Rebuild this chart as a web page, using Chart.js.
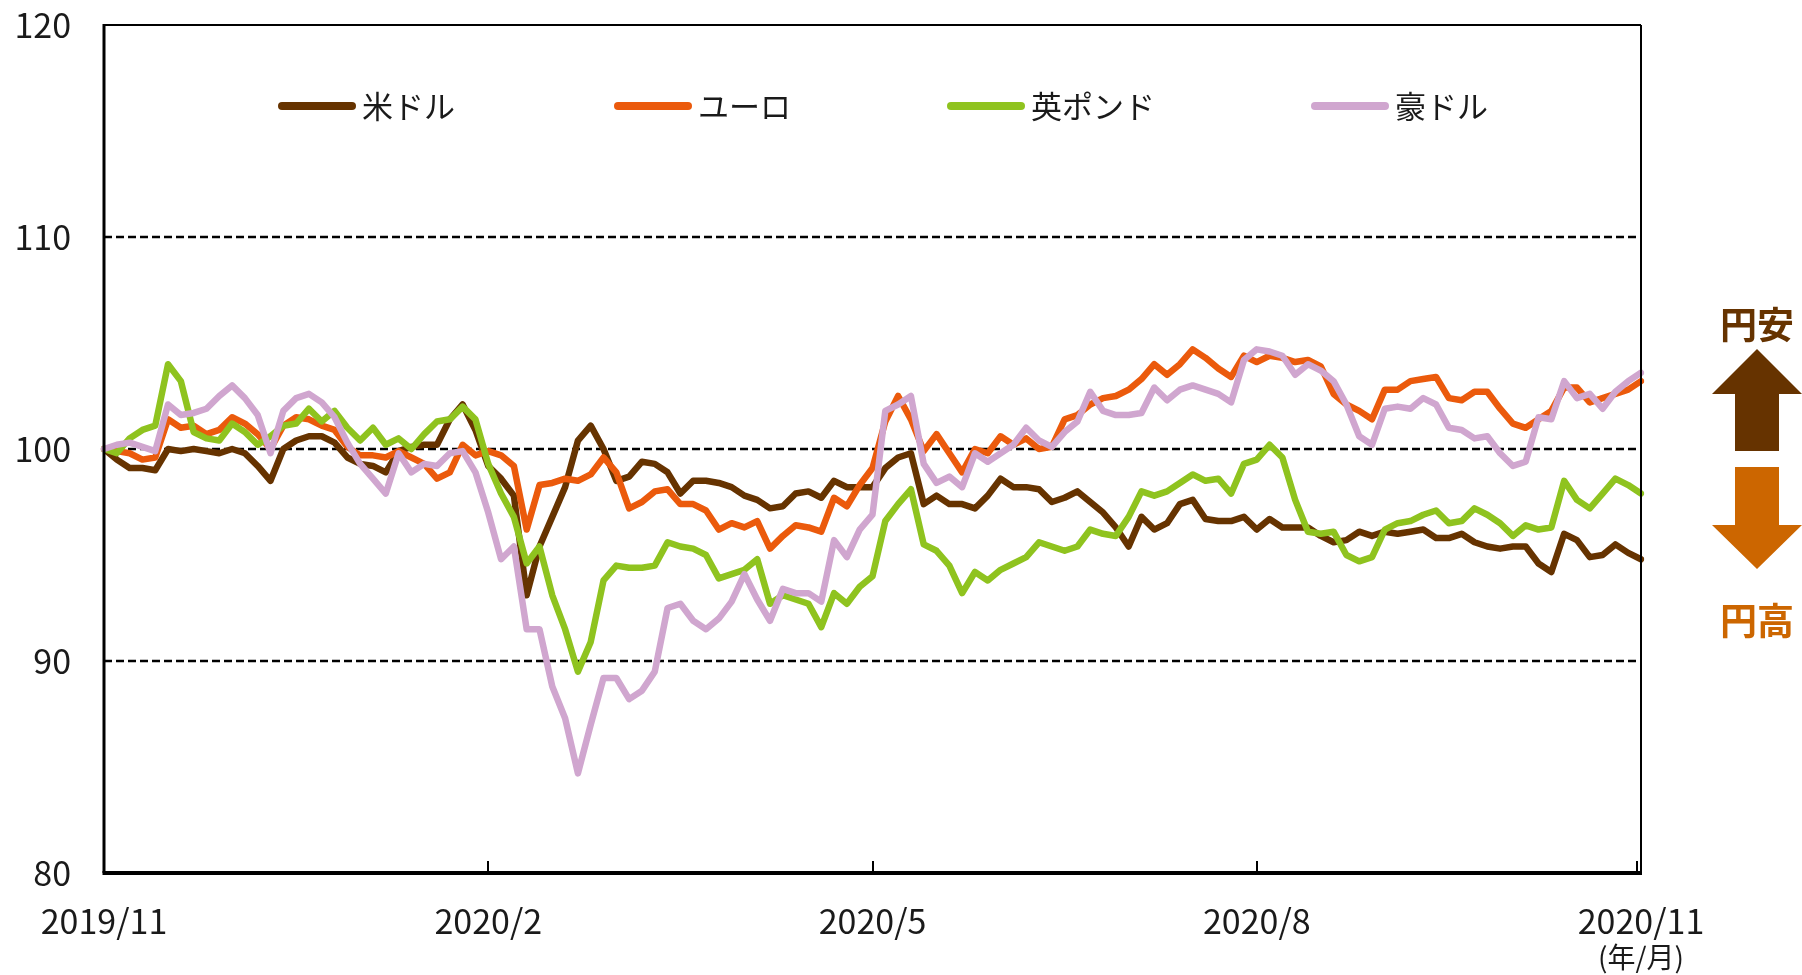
<!DOCTYPE html>
<html lang="ja">
<head>
<meta charset="utf-8">
<title>主要通貨の対円レート</title>
<script src="https://cdn.jsdelivr.net/npm/chart.js@4.4.1/dist/chart.umd.min.js"></script>
<style>
  html, body { margin: 0; padding: 0; background: #fff; }
  #wrap { width: 1802px; height: 975px; }
</style>
</head>
<body>
<div id="wrap"><canvas id="fx" width="1802" height="975"></canvas></div>
<script>
// 系列名・色
const seriesNames = ["米ドル", "ユーロ", "英ポンド", "豪ドル"];
const seriesColors = ["#663300", "#EB5A0C", "#8FC31F", "#D0A6CF"];

// 横軸ラベル（30点ごと）
const monthLabels = ["2019/11", "2020/2", "2020/5", "2020/8", "2020/11"];
const pointsPerLabel = 30;
const axisUnit = "(年/月)";

// 縦軸
const yTicks = [80, 90, 100, 110, 120];

// 2019/11 = 100 とした指数
const usd = [100.0, 99.5, 99.1, 99.1, 99.0, 100.0, 99.9, 100.0, 99.9, 99.8,
  100.0, 99.8, 99.2, 98.5, 100.0, 100.4, 100.6, 100.6, 100.3, 99.6,
  99.3, 99.2, 98.9, 99.9, 100.1, 100.2, 100.2, 101.4, 102.1, 100.9,
  99.2, 98.6, 97.8, 93.1, 95.4, 96.8, 98.2, 100.4, 101.1, 100.0,
  98.5, 98.7, 99.4, 99.3, 98.9, 97.9, 98.5, 98.5, 98.4, 98.2,
  97.8, 97.6, 97.2, 97.3, 97.9, 98.0, 97.7, 98.5, 98.2, 98.2,
  98.2, 99.1, 99.6, 99.8, 97.4, 97.8, 97.4, 97.4, 97.2, 97.8,
  98.6, 98.2, 98.2, 98.1, 97.5, 97.7, 98.0, 97.5, 97.0, 96.3,
  95.4, 96.8, 96.2, 96.5, 97.4, 97.6, 96.7, 96.6, 96.6, 96.8,
  96.2, 96.7, 96.3, 96.3, 96.3, 95.9, 95.6, 95.7, 96.1, 95.9,
  96.1, 96.0, 96.1, 96.2, 95.8, 95.8, 96.0, 95.6, 95.4, 95.3,
  95.4, 95.4, 94.6, 94.2, 96.0, 95.7, 94.9, 95.0, 95.5, 95.1,
  94.8];

const eur = [100.0, 99.9, 99.8, 99.5, 99.6, 101.4, 101.0, 101.1, 100.7, 100.9,
  101.5, 101.2, 100.7, 100.0, 101.1, 101.5, 101.4, 101.1, 100.9, 100.1,
  99.7, 99.7, 99.6, 99.9, 99.6, 99.3, 98.6, 98.9, 100.2, 99.7,
  99.9, 99.7, 99.2, 96.2, 98.3, 98.4, 98.6, 98.5, 98.8, 99.6,
  98.9, 97.2, 97.5, 98.0, 98.1, 97.4, 97.4, 97.1, 96.2, 96.5,
  96.3, 96.6, 95.3, 95.9, 96.4, 96.3, 96.1, 97.7, 97.3, 98.3,
  99.1, 101.3, 102.5, 101.4, 99.9, 100.7, 99.8, 98.9, 100.0, 99.8,
  100.6, 100.2, 100.5, 100.0, 100.1, 101.4, 101.6, 102.1, 102.4, 102.5,
  102.8, 103.3, 104.0, 103.5, 104.0, 104.7, 104.3, 103.8, 103.4, 104.4,
  104.1, 104.4, 104.3, 104.1, 104.2, 103.9, 102.6, 102.1, 101.8, 101.4,
  102.8, 102.8, 103.2, 103.3, 103.4, 102.4, 102.3, 102.7, 102.7, 101.9,
  101.2, 101.0, 101.4, 101.8, 102.9, 102.9, 102.2, 102.4, 102.6, 102.8,
  103.2];

const gbp = [100.0, 99.8, 100.5, 100.9, 101.1, 104.0, 103.2, 100.8, 100.5, 100.4,
  101.2, 100.8, 100.2, 100.6, 101.1, 101.2, 101.9, 101.3, 101.8, 101.0,
  100.4, 101.0, 100.2, 100.5, 100.0, 100.7, 101.3, 101.4, 102.0, 101.4,
  99.3, 97.9, 96.8, 94.6, 95.4, 93.1, 91.5, 89.5, 90.9, 93.8,
  94.5, 94.4, 94.4, 94.5, 95.6, 95.4, 95.3, 95.0, 93.9, 94.1,
  94.3, 94.8, 92.7, 93.1, 92.9, 92.7, 91.6, 93.2, 92.7, 93.5,
  94.0, 96.6, 97.4, 98.1, 95.5, 95.2, 94.5, 93.2, 94.2, 93.8,
  94.3, 94.6, 94.9, 95.6, 95.4, 95.2, 95.4, 96.2, 96.0, 95.9,
  96.8, 98.0, 97.8, 98.0, 98.4, 98.8, 98.5, 98.6, 97.9, 99.3,
  99.5, 100.2, 99.6, 97.6, 96.1, 96.0, 96.1, 95.0, 94.7, 94.9,
  96.2, 96.5, 96.6, 96.9, 97.1, 96.5, 96.6, 97.2, 96.9, 96.5,
  95.9, 96.4, 96.2, 96.3, 98.5, 97.6, 97.2, 97.9, 98.6, 98.3,
  97.9];

const aud = [100.0, 100.2, 100.3, 100.1, 99.9, 102.1, 101.6, 101.7, 101.9, 102.5,
  103.0, 102.4, 101.6, 99.8, 101.8, 102.4, 102.6, 102.2, 101.5, 100.3,
  99.3, 98.6, 97.9, 99.8, 98.9, 99.3, 99.2, 99.8, 99.9, 98.9,
  97.0, 94.8, 95.4, 91.5, 91.5, 88.8, 87.3, 84.7, 87.0, 89.2,
  89.2, 88.2, 88.6, 89.5, 92.5, 92.7, 91.9, 91.5, 92.0, 92.8,
  94.1, 92.9, 91.9, 93.4, 93.2, 93.2, 92.8, 95.7, 94.9, 96.2,
  96.9, 101.8, 102.1, 102.5, 99.3, 98.4, 98.7, 98.2, 99.8, 99.4,
  99.8, 100.2, 101.0, 100.4, 100.1, 100.8, 101.3, 102.7, 101.8, 101.6,
  101.6, 101.7, 102.9, 102.3, 102.8, 103.0, 102.8, 102.6, 102.2, 104.2,
  104.7, 104.6, 104.4, 103.5, 104.0, 103.7, 103.2, 102.1, 100.6, 100.2,
  101.9, 102.0, 101.9, 102.4, 102.1, 101.0, 100.9, 100.5, 100.6, 99.8,
  99.2, 99.4, 101.5, 101.4, 103.2, 102.4, 102.6, 101.9, 102.7, 103.2,
  103.6];

const FONT = "'Noto Sans CJK JP', 'Noto Sans', sans-serif";
const TEXT = "#1a1a1a";

// 破線の目盛線と外枠、下軸の目盛り
const frameAndGrid = {
  id: "frameAndGrid",
  beforeDatasetsDraw(chart) {
    const { ctx, chartArea: a, scales: { y } } = chart;
    ctx.save();
    ctx.strokeStyle = "#000";
    ctx.lineWidth = 2.5;
    ctx.setLineDash([8, 4]);
    yTicks.slice(1, -1).forEach((v) => {
      const py = Math.round(y.getPixelForValue(v));
      ctx.beginPath();
      ctx.moveTo(a.left, py);
      ctx.lineTo(a.right, py);
      ctx.stroke();
    });
    ctx.restore();
  },
  afterDatasetsDraw(chart) {
    const { ctx, chartArea: a, scales: { x } } = chart;
    ctx.save();
    ctx.strokeStyle = "#000";
    ctx.lineCap = "butt";
    // 上・右
    ctx.lineWidth = 2;
    ctx.beginPath();
    ctx.moveTo(a.left, a.top);
    ctx.lineTo(a.right, a.top);
    ctx.moveTo(a.right, a.top);
    ctx.lineTo(a.right, a.bottom);
    ctx.stroke();
    // 左
    ctx.lineWidth = 3;
    ctx.beginPath();
    ctx.moveTo(a.left, a.top - 1);
    ctx.lineTo(a.left, a.bottom);
    ctx.stroke();
    // 下
    ctx.lineWidth = 4;
    ctx.beginPath();
    ctx.moveTo(a.left - 1.5, a.bottom);
    ctx.lineTo(a.right + 1, a.bottom);
    ctx.stroke();
    // 目盛り（内向き）
    ctx.lineWidth = 2;
    monthLabels.forEach((_, k) => {
      const px = Math.round(x.getPixelForValue(k * pointsPerLabel)) - (k === monthLabels.length - 1 ? 4 : 0);
      ctx.beginPath();
      ctx.moveTo(px, a.bottom);
      ctx.lineTo(px, a.bottom - 12);
      ctx.stroke();
    });
    // 単位
    ctx.fillStyle = TEXT;
    ctx.font = "28px " + FONT;
    ctx.textAlign = "center";
    ctx.textBaseline = "middle";
    ctx.fillText(axisUnit, x.getPixelForValue((monthLabels.length - 1) * pointsPerLabel), 957);
    ctx.restore();
  },
};

// 凡例（グラフ内上部）
const insideLegend = {
  id: "insideLegend",
  afterDraw(chart) {
    const { ctx } = chart;
    const starts = [278, 614, 947, 1311];
    const ly = 106;
    ctx.save();
    ctx.font = "31px " + FONT;
    ctx.textBaseline = "middle";
    ctx.textAlign = "left";
    chart.data.datasets.forEach((ds, i) => {
      ctx.strokeStyle = ds.borderColor;
      ctx.lineWidth = 8;
      ctx.lineCap = "round";
      ctx.beginPath();
      ctx.moveTo(starts[i] + 4, ly);
      ctx.lineTo(starts[i] + 74, ly);
      ctx.stroke();
      ctx.fillStyle = TEXT;
      ctx.fillText(ds.label, starts[i] + 84, ly);
    });
    ctx.restore();
  },
};

// 右側の円安・円高の矢印
const yenArrows = {
  id: "yenArrows",
  afterDraw(chart) {
    const { ctx } = chart;
    const cx = 1757;
    ctx.save();
    ctx.font = "bold 37px " + FONT;
    ctx.textAlign = "center";
    ctx.textBaseline = "middle";

    ctx.fillStyle = "#663300";
    ctx.fillText("円安", cx, 325);
    ctx.beginPath();
    ctx.moveTo(cx, 349);
    ctx.lineTo(cx + 45, 394);
    ctx.lineTo(cx + 22, 394);
    ctx.lineTo(cx + 22, 451);
    ctx.lineTo(cx - 22, 451);
    ctx.lineTo(cx - 22, 394);
    ctx.lineTo(cx - 45, 394);
    ctx.closePath();
    ctx.fill();

    ctx.fillStyle = "#CC6600";
    ctx.beginPath();
    ctx.moveTo(cx - 22, 467);
    ctx.lineTo(cx + 22, 467);
    ctx.lineTo(cx + 22, 525);
    ctx.lineTo(cx + 45, 525);
    ctx.lineTo(cx, 569);
    ctx.lineTo(cx - 45, 525);
    ctx.lineTo(cx - 22, 525);
    ctx.closePath();
    ctx.fill();
    ctx.fillText("円高", cx, 621);
    ctx.restore();
  },
};

const seriesData = [usd, eur, gbp, aud];
const labels = usd.map((_, i) => i);

const datasets = seriesNames.map((name, i) => ({
  label: name,
  data: seriesData[i],
  borderColor: seriesColors[i],
  backgroundColor: seriesColors[i],
  borderWidth: 6.5,
  pointRadius: 0,
  tension: 0,
  borderJoinStyle: "round",
  borderCapStyle: "round",
  order: seriesNames.length - i, // 豪ドルを最前面に
}));

const ctx = document.getElementById("fx").getContext("2d");
new Chart(ctx, {
  type: "line",
  data: { labels: labels, datasets: datasets },
  options: {
    responsive: false,
    animation: false,
    devicePixelRatio: 1,
    layout: { padding: { left: 0, top: 25, right: 161, bottom: 0 } },
    plugins: {
      legend: { display: false },
      tooltip: { enabled: false },
    },
    scales: {
      x: {
        type: "category",
        offset: false,
        grid: { display: false, drawTicks: false },
        border: { display: false },
        afterFit(scale) {
          scale.height = 102;
          scale.paddingLeft = 0;
          scale.paddingRight = 0;
        },
        ticks: {
          autoSkip: false,
          maxRotation: 0,
          padding: 28,
          color: TEXT,
          font: { family: FONT, size: 34 },
          callback(value, index) {
            return index % pointsPerLabel === 0 ? monthLabels[index / pointsPerLabel] : null;
          },
        },
      },
      y: {
        min: yTicks[0],
        max: yTicks[yTicks.length - 1],
        grid: { display: false, drawTicks: false },
        border: { display: false },
        afterFit(scale) {
          scale.width = 104;
          scale.paddingTop = 0;
          scale.paddingBottom = 0;
        },
        afterBuildTicks(scale) { scale.ticks = yTicks.map((v) => ({ value: v })); },
        ticks: {
          padding: 33,
          color: TEXT,
          font: { family: FONT, size: 34 },
        },
      },
    },
  },
  plugins: [frameAndGrid, insideLegend, yenArrows],
});
</script>
</body>
</html>
